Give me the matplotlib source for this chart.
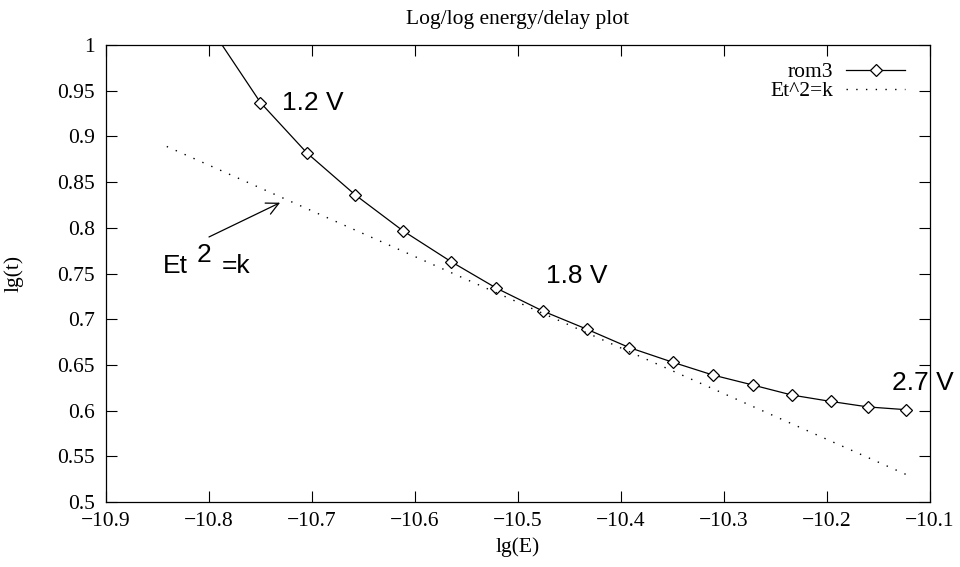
import numpy as np
import matplotlib
matplotlib.use("Agg")
import matplotlib.pyplot as plt

# rom3 measured points (lg energy, lg delay), supply swept 1.1 V .. 2.7 V
lg_E = [-10.795, -10.750, -10.705, -10.658, -10.612, -10.565, -10.521, -10.476,
        -10.433, -10.392, -10.350, -10.311, -10.272, -10.234, -10.196, -10.160, -10.123]
lg_t = [1.013, 0.937, 0.882, 0.836, 0.797, 0.763, 0.734, 0.709,
        0.689, 0.669, 0.653, 0.639, 0.628, 0.617, 0.610, 0.604, 0.601]

# Et^2=k reference line end points
k_E = [-10.841, -10.123]
k_t = [0.889, 0.530]

xticks = [-10.9, -10.8, -10.7, -10.6, -10.5, -10.4, -10.3, -10.2, -10.1]
yticks = [0.5, 0.55, 0.6, 0.65, 0.7, 0.75, 0.8, 0.85, 0.9, 0.95, 1.0]
xlabels = ["\u221210.9", "\u221210.8", "\u221210.7", "\u221210.6", "\u221210.5",
           "\u221210.4", "\u221210.3", "\u221210.2", "\u221210.1"]
ylabels = ["0.5", "0.55", "0.6", "0.65", "0.7", "0.75", "0.8", "0.85", "0.9", "0.95", "1"]

serif = "Liberation Serif"
sans = "Liberation Sans"
fs = 15.5

fig = plt.figure(figsize=(9.6, 5.67), dpi=100)
ax = fig.add_subplot(111)
fig.subplots_adjust(left=0.1104, right=0.9688, top=0.9206, bottom=0.1146)

ax.plot(lg_E, lg_t, color="black", lw=0.9, marker="D", markersize=6,
        markerfacecolor="white", markeredgecolor="black", markeredgewidth=0.9,
        label="rom3")
ax.plot(k_E, k_t, color="black", lw=1.0, linestyle=(0, (1, 6)), label="Et^2=k")

ax.set_xlim(-10.9, -10.1)
ax.set_ylim(0.5, 1.0)
ax.set_xticks(xticks)
ax.set_xticklabels(xlabels, fontfamily=serif, fontsize=fs)
ax.set_yticks(yticks)
ax.set_yticklabels(ylabels, fontfamily=serif, fontsize=fs)
ax.tick_params(direction="in", length=8, width=0.8, top=True, right=True)
ax.tick_params(axis="y", pad=8)
ax.tick_params(axis="x", pad=7)
for s in ax.spines.values():
    s.set_linewidth(0.9)

ax.set_title("Log/log energy/delay plot", fontfamily=serif, fontsize=fs, pad=15)
ax.set_xlabel("lg(E)", fontfamily=serif, fontsize=fs, labelpad=5)
ax.set_ylabel("lg(t)", fontfamily=serif, fontsize=fs)
ax.yaxis.set_label_coords(-0.100, 0.5)

# voltage labels
ax.text(-10.729, 0.937, "1.2 V", fontfamily=sans, fontsize=19, va="center", ha="left")
ax.text(-10.473, 0.747, "1.8 V", fontfamily=sans, fontsize=19, va="center", ha="left")
ax.text(-10.137, 0.630, "2.7 V", fontfamily=sans, fontsize=19, va="center", ha="left",
        clip_on=False)

# Et^2=k label with arrow
ax.text(-10.845, 0.7505, "Et", fontfamily=sans, fontsize=19, va="baseline", ha="left")
ax.text(-10.812, 0.7626, "2", fontfamily=sans, fontsize=19, va="baseline", ha="left")
ax.text(-10.788, 0.7505, "=k", fontfamily=sans, fontsize=19, va="baseline", ha="left")
ax.annotate("", xy=(-10.731, 0.8275), xytext=(-10.800, 0.790),
            arrowprops=dict(arrowstyle="->", color="black", lw=0.9,
                            mutation_scale=22, shrinkA=0, shrinkB=0))

leg = ax.legend(loc="upper right", bbox_to_anchor=(0.991, 1.0), frameon=False,
                markerfirst=False, numpoints=1,
                prop={"family": serif, "size": fs}, handlelength=2.75,
                handletextpad=0.6, labelspacing=-0.05, borderaxespad=0.5,
                borderpad=0.3)

fig.savefig("out.png", dpi=100)
